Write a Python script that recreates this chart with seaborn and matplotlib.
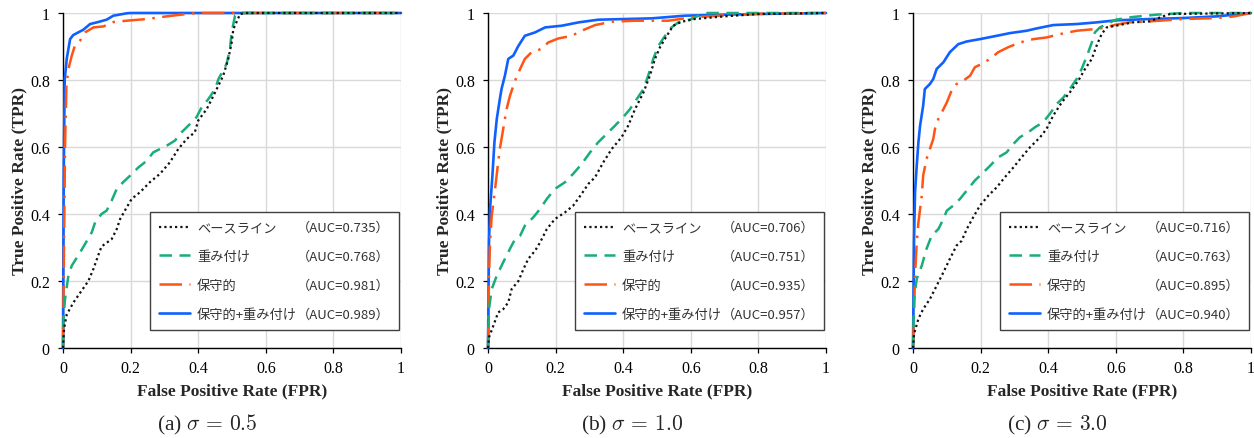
import numpy as np
import pandas as pd
import seaborn as sns
import matplotlib
matplotlib.use("Agg")
import matplotlib.pyplot as plt
from matplotlib.lines import Line2D
from matplotlib.font_manager import FontProperties
from matplotlib.ticker import FuncFormatter
import matplotlib.transforms as mtransforms

# ---------------- data ----------------
series_names = ["ベースライン", "重み付け", "保守的", "保守的+重み付け"]
panel_captions = [r"(a) $\sigma\,=\,0.5$", r"(b) $\sigma\,=\,1.0$", r"(c) $\sigma\,=\,3.0$"]
auc_a = [0.735, 0.768, 0.981, 0.989]
auc_b = [0.706, 0.751, 0.935, 0.957]
auc_c = [0.716, 0.763, 0.895, 0.940]
x_ticks = [0, 0.2, 0.4, 0.6, 0.8, 1.0]
y_ticks = [0, 0.2, 0.4, 0.6, 0.8, 1.0]

# panel (a) sigma = 0.5
fpr_a_base = [0, 0.003, 0.011, 0.031, 0.055, 0.075, 0.09, 0.104, 0.114, 0.144, 0.159, 0.169, 0.183, 0.203, 0.228, 0.257, 0.287, 0.316, 0.341, 0.366, 0.39, 0.40, 0.425, 0.45, 0.474, 0.489, 0.499, 0.504, 0.524, 0.54, 1.0]
tpr_a_base = [0, 0.057, 0.10, 0.136, 0.171, 0.20, 0.236, 0.276, 0.303, 0.325, 0.355, 0.385, 0.41, 0.445, 0.465, 0.495, 0.52, 0.554, 0.594, 0.624, 0.644, 0.679, 0.713, 0.763, 0.813, 0.863, 0.912, 0.952, 0.997, 1.0, 1.0]
fpr_a_wt = [0, 0.002, 0.006, 0.016, 0.026, 0.045, 0.065, 0.085, 0.095, 0.114, 0.129, 0.144, 0.159, 0.178, 0.198, 0.223, 0.248, 0.267, 0.287, 0.307, 0.331, 0.351, 0.376, 0.395, 0.41, 0.43, 0.45, 0.46, 0.484, 0.494, 0.499, 0.509, 0.52, 1.0]
tpr_a_wt = [0, 0.10, 0.146, 0.216, 0.246, 0.276, 0.31, 0.345, 0.375, 0.40, 0.41, 0.44, 0.475, 0.495, 0.514, 0.539, 0.559, 0.584, 0.594, 0.604, 0.619, 0.644, 0.669, 0.689, 0.718, 0.743, 0.773, 0.803, 0.848, 0.893, 0.942, 0.992, 1.0, 1.0]
fpr_a_cons = [0, 0.003, 0.006, 0.01, 0.016, 0.026, 0.035, 0.05, 0.065, 0.09, 0.12, 0.149, 0.188, 0.248, 0.307, 0.366, 0.40, 1.0]
tpr_a_cons = [0, 0.30, 0.60, 0.78, 0.833, 0.873, 0.902, 0.917, 0.942, 0.957, 0.96, 0.973, 0.977, 0.982, 0.99, 0.997, 1.0, 1.0]
fpr_a_both = [0, 0.002, 0.005, 0.011, 0.021, 0.03, 0.045, 0.06, 0.08, 0.10, 0.129, 0.149, 0.188, 0.20, 1.0]
tpr_a_both = [0, 0.50, 0.80, 0.863, 0.922, 0.934, 0.942, 0.95, 0.967, 0.972, 0.98, 0.992, 0.999, 1.0, 1.0]

# panel (b) sigma = 1.0
fpr_b_base = [0, 0.003, 0.016, 0.03, 0.045, 0.06, 0.07, 0.09, 0.105, 0.119, 0.139, 0.154, 0.174, 0.198, 0.228, 0.252, 0.277, 0.297, 0.317, 0.341, 0.366, 0.395, 0.415, 0.435, 0.46, 0.479, 0.494, 0.509, 0.529, 0.548, 0.573, 0.612, 0.70, 0.80, 1.0]
tpr_b_base = [0, 0.032, 0.067, 0.106, 0.116, 0.136, 0.176, 0.20, 0.236, 0.266, 0.29, 0.315, 0.355, 0.385, 0.405, 0.425, 0.46, 0.49, 0.51, 0.554, 0.594, 0.629, 0.664, 0.713, 0.763, 0.813, 0.863, 0.898, 0.932, 0.962, 0.974, 0.982, 0.99, 0.997, 1.0]
fpr_b_wt = [0, 0.003, 0.011, 0.026, 0.045, 0.065, 0.08, 0.095, 0.109, 0.134, 0.154, 0.174, 0.198, 0.228, 0.252, 0.277, 0.302, 0.326, 0.351, 0.376, 0.40, 0.42, 0.44, 0.46, 0.474, 0.489, 0.504, 0.524, 0.543, 0.563, 0.603, 0.632, 0.65, 1.0]
tpr_b_wt = [0, 0.116, 0.176, 0.216, 0.256, 0.296, 0.325, 0.335, 0.365, 0.39, 0.415, 0.445, 0.475, 0.495, 0.52, 0.549, 0.584, 0.614, 0.639, 0.664, 0.689, 0.713, 0.743, 0.773, 0.813, 0.863, 0.902, 0.932, 0.957, 0.972, 0.982, 0.997, 1.0, 1.0]
fpr_b_cons = [0, 0.003, 0.006, 0.011, 0.021, 0.03, 0.035, 0.045, 0.055, 0.065, 0.08, 0.095, 0.109, 0.129, 0.159, 0.178, 0.208, 0.248, 0.277, 0.317, 0.366, 0.435, 0.534, 0.603, 0.70, 0.80, 1.0]
tpr_b_cons = [0, 0.216, 0.315, 0.395, 0.475, 0.554, 0.594, 0.654, 0.713, 0.753, 0.798, 0.833, 0.863, 0.883, 0.893, 0.912, 0.924, 0.932, 0.947, 0.964, 0.974, 0.977, 0.977, 0.987, 0.993, 0.998, 1.0]
fpr_b_both = [0, 0.003, 0.006, 0.013, 0.019, 0.026, 0.035, 0.04, 0.05, 0.06, 0.075, 0.09, 0.109, 0.139, 0.169, 0.218, 0.268, 0.326, 0.405, 0.484, 0.583, 0.70, 0.80, 1.0]
tpr_b_both = [0, 0.315, 0.415, 0.514, 0.614, 0.684, 0.743, 0.773, 0.813, 0.863, 0.873, 0.902, 0.932, 0.942, 0.957, 0.962, 0.972, 0.98, 0.982, 0.984, 0.992, 0.995, 0.997, 1.0]

# panel (c) sigma = 3.0
fpr_c_base = [0, 0.003, 0.016, 0.03, 0.05, 0.07, 0.09, 0.109, 0.129, 0.144, 0.159, 0.178, 0.198, 0.223, 0.248, 0.272, 0.297, 0.321, 0.346, 0.376, 0.395, 0.415, 0.44, 0.464, 0.489, 0.509, 0.529, 0.543, 0.558, 0.573, 0.60, 0.65, 0.70, 0.74, 0.76, 1.0]
tpr_c_base = [0, 0.042, 0.087, 0.116, 0.146, 0.186, 0.226, 0.266, 0.306, 0.32, 0.355, 0.39, 0.425, 0.455, 0.48, 0.51, 0.539, 0.569, 0.599, 0.629, 0.654, 0.694, 0.733, 0.763, 0.798, 0.833, 0.863, 0.902, 0.937, 0.957, 0.962, 0.972, 0.975, 0.99, 0.997, 1.0]
fpr_c_wt = [0, 0.003, 0.011, 0.026, 0.04, 0.055, 0.075, 0.09, 0.10, 0.119, 0.139, 0.159, 0.183, 0.203, 0.228, 0.252, 0.277, 0.297, 0.316, 0.341, 0.361, 0.385, 0.405, 0.425, 0.445, 0.464, 0.484, 0.499, 0.515, 0.529, 0.538, 0.553, 0.60, 0.65, 0.72, 0.80, 1.0]
tpr_c_wt = [0, 0.146, 0.206, 0.246, 0.296, 0.335, 0.355, 0.385, 0.41, 0.425, 0.445, 0.47, 0.50, 0.519, 0.544, 0.569, 0.584, 0.609, 0.629, 0.644, 0.659, 0.674, 0.699, 0.728, 0.748, 0.773, 0.803, 0.833, 0.873, 0.912, 0.942, 0.957, 0.98, 0.988, 0.995, 1.0, 1.0]
fpr_c_cons = [0, 0.003, 0.006, 0.011, 0.016, 0.026, 0.03, 0.04, 0.05, 0.06, 0.065, 0.075, 0.085, 0.10, 0.114, 0.129, 0.149, 0.169, 0.183, 0.203, 0.228, 0.252, 0.282, 0.316, 0.356, 0.395, 0.435, 0.484, 0.538, 0.56, 0.60, 0.64, 0.70, 0.80, 0.90, 0.95, 1.0]
tpr_c_cons = [0, 0.10, 0.216, 0.315, 0.375, 0.455, 0.514, 0.564, 0.594, 0.624, 0.654, 0.684, 0.703, 0.733, 0.768, 0.788, 0.798, 0.813, 0.838, 0.848, 0.863, 0.883, 0.898, 0.912, 0.922, 0.927, 0.937, 0.947, 0.952, 0.955, 0.965, 0.972, 0.975, 0.982, 0.985, 0.99, 1.0]
fpr_c_both = [0, 0.003, 0.006, 0.011, 0.016, 0.021, 0.03, 0.035, 0.05, 0.06, 0.07, 0.09, 0.109, 0.134, 0.159, 0.198, 0.248, 0.287, 0.336, 0.366, 0.415, 0.484, 0.543, 0.60, 0.70, 0.80, 0.90, 1.0]
tpr_c_both = [0, 0.315, 0.465, 0.544, 0.614, 0.664, 0.723, 0.773, 0.788, 0.803, 0.833, 0.853, 0.883, 0.907, 0.915, 0.922, 0.932, 0.94, 0.947, 0.954, 0.964, 0.967, 0.972, 0.978, 0.982, 0.985, 0.99, 1.0]

panels = [
    [(fpr_a_base, tpr_a_base), (fpr_a_wt, tpr_a_wt), (fpr_a_cons, tpr_a_cons), (fpr_a_both, tpr_a_both)],
    [(fpr_b_base, tpr_b_base), (fpr_b_wt, tpr_b_wt), (fpr_b_cons, tpr_b_cons), (fpr_b_both, tpr_b_both)],
    [(fpr_c_base, tpr_c_base), (fpr_c_wt, tpr_c_wt), (fpr_c_cons, tpr_c_cons), (fpr_c_both, tpr_c_both)],
]
aucs = [auc_a, auc_b, auc_c]

# ---------------- style ----------------
sns.set_theme(style="whitegrid")
plt.rcParams["font.family"] = ["Liberation Serif", "Noto Sans CJK JP", "DejaVu Sans"]
plt.rcParams["mathtext.fontset"] = "cm"

colors = ["#111111", "#19AD78", "#FF5414", "#1060FF"]
styles = [(0, (1.0, 1.4)), (0, (5.0, 3.0)), (0, (9.0, 3.0, 1.0, 3.0)), "-"]
widths = [1.6, 1.8, 1.8, 1.9]

fig = plt.figure(figsize=(12.54, 4.39), dpi=100)
W, H = 1254, 439
lefts = [63, 488, 913]
ax_w, top_px, bot_px = 338, 14, 349

legend_font = FontProperties(family=["Noto Sans CJK JP", "DejaVu Sans"], size=9.5)

for p in range(3):
    ax = fig.add_axes([lefts[p] / W, 1 - bot_px / H, ax_w / W, (bot_px - top_px) / H])
    handles = []
    for k in range(4):
        fx, ty = panels[p][k]
        df = pd.DataFrame({"FPR": fx, "TPR": ty})
        sns.lineplot(data=df, x="FPR", y="TPR", ax=ax, sort=False, estimator=None,
                     color=colors[k], linestyle=styles[k], linewidth=widths[k],
                     clip_on=False, zorder=3 + (4 - k) * 0.1)
        handles.append(Line2D([], [], color=colors[k], linestyle=styles[k], linewidth=widths[k]))
    ax.set_xlim(0, 1)
    ax.set_ylim(0, 1)
    ax.set_xticks(x_ticks)
    ax.set_yticks(y_ticks)
    fmt = FuncFormatter(lambda v, pos: f"{v:g}")
    ax.xaxis.set_major_formatter(fmt)
    ax.yaxis.set_major_formatter(fmt)
    ax.grid(True, color="#d9d9d9", linewidth=1.0)
    ax.set_axisbelow(True)
    for s in ["top", "right"]:
        ax.spines[s].set_visible(False)
    for s in ["left", "bottom"]:
        ax.spines[s].set_visible(True)
        ax.spines[s].set_color("black")
        ax.spines[s].set_linewidth(1.0)
    ax.tick_params(axis="both", which="major", direction="out", length=3.5, width=0.9,
                   color="black", labelsize=11.5, labelcolor="black",
                   bottom=True, left=True)
    ax.tick_params(axis="x", pad=5)
    ax.tick_params(axis="y", pad=6)
    ax.set_xlabel("False Positive Rate (FPR)", fontsize=12.5, fontweight="bold", labelpad=5)
    ax.set_ylabel("True Positive Rate (TPR)", fontsize=12.5, fontweight="bold", labelpad=2)
    ax.set_facecolor("white")

    dummy = [Line2D([], [], color="none") for _ in range(4)]
    auc_labels = [f"（AUC={v:.3f}）" for v in aucs[p]]
    leg = ax.legend(handles + dummy, series_names + auc_labels, ncol=2,
                    loc="lower right", bbox_to_anchor=(0.994, 0.054), borderaxespad=0,
                    prop=legend_font, frameon=True, fancybox=False, framealpha=1,
                    edgecolor="#404040", handlelength=2.3, handletextpad=0.55,
                    columnspacing=-2.85, labelspacing=1.2, borderpad=0.7)
    for t in leg.get_texts():
        t.set_color("#333333")
    leg.get_frame().set_linewidth(1.0)
    leg.set_zorder(10)

    trans = mtransforms.blended_transform_factory(ax.transAxes, fig.transFigure)
    ax.text(0.5 - 25 / ax_w, 1 - 425 / H, panel_captions[p], transform=trans,
            ha="center", va="center", fontsize=15.5, family="Liberation Serif")

fig.savefig("out.png", dpi=100, facecolor="white")
